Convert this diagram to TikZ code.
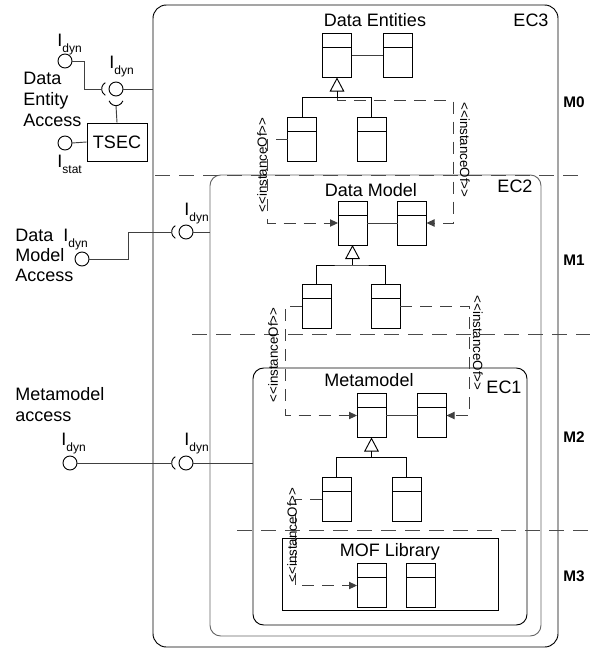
\documentclass[tikz,border=0pt]{standalone}
\usepackage{fontspec}
\setmainfont{Liberation Sans}
\usetikzlibrary{arrows.meta}
\newcommand{\Isub}[1]{I\raisebox{-4.5pt}{\fontsize{9}{9}\selectfont #1}}
\begin{document}
\begin{tikzpicture}[x=0.75pt,y=-0.75pt, line width=0.7pt,
  tbase/.style={font=\fontsize{13.5}{15.75}\selectfont},
  ilab/.style={anchor=base west, inner sep=0pt, font=\fontsize{13.5}{13.5}\selectfont},
  ball/.style={circle, draw, minimum size=10.5pt, inner sep=0pt, outer sep=0pt},
  conn/.style={draw=black!75},
  ecbox/.style={draw, inner sep=0pt, outer sep=0pt},
  classbox/.style={draw, minimum width=21.75pt, minimum height=33pt, inner sep=0pt, outer sep=0pt,
    path picture={\draw ([yshift=-10.5pt]path picture bounding box.north west) -- ([yshift=-10.5pt]path picture bounding box.north east);}},
  gen/.style={draw, -{Triangle[open,length=10.5pt,width=11pt]}},
  inst/.style={draw=black!75, dash pattern=on 9pt off 6pt, -{Triangle[length=6pt,width=5.5pt]}},
  sep/.style={draw=black!70, dash pattern=on 11pt off 7pt},
  ilabel/.style={font=\fontsize{10}{10}\selectfont, inner sep=0pt},
  mlab/.style={font=\bfseries\fontsize{11.5}{11.5}\selectfont, anchor=west, inner sep=0pt}
]
\useasboundingbox (0,0) rectangle (590,650);

% containers
\node[ecbox, rounded corners=10pt, minimum width=303.75pt, minimum height=481.5pt] (ec3) at (355.5,326) {};
\node[ecbox, draw=black!60, rounded corners=8pt, minimum width=248.25pt, minimum height=345.75pt] (ec2) at (375.5,405.5) {};
\node[ecbox, rounded corners=8pt, minimum width=205.5pt, minimum height=192.75pt] (ec1) at (390,496.5) {};
\node[ecbox, minimum width=162pt, minimum height=54pt] (mof) at (390,574) {};

% level separators
\draw[sep] (155,175) -- (585,175);
\draw[sep] (192,334) -- (590,334);
\draw[sep] (237,530) -- (590,530);

% titles and labels
\node[tbase] at (375,20) {Data Entities};
\node[tbase] at (371,190) {Data Model};
\node[tbase] at (369,380) {Metamodel};
\node[tbase] at (390,552) {MOF Library};
\node[tbase] at (531,20) {EC3};
\node[tbase] at (515,186) {EC2};
\node[tbase] at (504,387) {EC1};
\node[mlab] at (563,102) {M0};
\node[mlab] at (563,260) {M1};
\node[mlab] at (563,437) {M2};
\node[mlab] at (563,576) {M3};

% Data Entities
\node[classbox] (deA) at (337,55.5) {};
\node[classbox] (deB) at (397.5,55.5) {};
\node[classbox] (deC) at (302,139) {};
\node[classbox] (deD) at (371.5,139) {};
\draw[conn] (deA.east) -- (deB.west);
\coordinate (deG) at ([yshift=-15pt]deA.south);
\draw (deC.north) |- (deG) -| (deD.north);
\draw[gen] (deG) -- (deA.south);

% Data Model
\node[classbox] (dmA) at (352.5,223) {};
\node[classbox] (dmB) at (412,223) {};
\node[classbox] (dmC) at (316.5,306) {};
\node[classbox] (dmD) at (385.5,306) {};
\draw[conn] (dmA.east) -- (dmB.west);
\coordinate (dmG) at ([yshift=-15pt]dmA.south);
\draw (dmC.north) |- (dmG) -| (dmD.north);
\draw[gen] (dmG) -- (dmA.south);

% Metamodel
\node[classbox] (mmA) at (371.5,415.5) {};
\node[classbox] (mmB) at (432,415.5) {};
\node[classbox] (mmC) at (336.5,499.5) {};
\node[classbox] (mmD) at (406.5,499.5) {};
\draw[conn] (mmA.east) -- (mmB.west);
\coordinate (mmG) at ([yshift=-15pt]mmA.south);
\draw (mmC.north) |- (mmG) -| (mmD.north);
\draw[gen] (mmG) -- (mmA.south);

% MOF Library
\node[classbox] (mofA) at (371.5,585.5) {};
\node[classbox] (mofB) at (420.5,585.5) {};

% instanceOf connectors
\draw[inst] (deC.west) -- ++(-20,0) |- (dmA.west);
\node[ilabel, rotate=90] at (262,165) {<{}<instanceOf>{}>};
\draw[inst] (deG) -- ++(0,3) -- ++(116,0) |- (dmB.east);
\node[ilabel, rotate=-90] at (465,150) {<{}<instanceOf>{}>};
\draw[inst] (dmC.west) -- ++(-17,0) |- (mmA.west);
\node[ilabel, rotate=90] at (273,355) {<{}<instanceOf>{}>};
\draw[inst] (dmD.east) -- ++(69,0) |- (mmB.east);
\node[ilabel, rotate=-90] at (478,343) {<{}<instanceOf>{}>};
\draw[inst] (mmC.west) -- ++(-27,0) |- (mofA.west);
\node[ilabel, rotate=90] at (292,535) {<{}<instanceOf>{}>};

% interfaces: Data Entity Access
\node[tbase, align=left, anchor=north west, inner sep=0pt] (dea) at (23,72) {Data\\Entity\\Access};
\node[ball] (L1) at (65,61) {};
\node[ilab] at (57,46) {\Isub{dyn}};
\node[ball] (B1) at (116,89) {};
\node[ilab] at (109,68) {\Isub{dyn}};
\coordinate (S1) at ([xshift=-5.25pt]B1.center);
\coordinate (S1w) at ([xshift=-5.5pt]S1);
\draw ([shift={(120:5.5pt)}]S1) arc[start angle=120, end angle=240, radius=5.5pt];
\draw[conn] (L1.east) -- ++(12,0) |- (S1w);
\coordinate (T1) at ([yshift=-7pt]B1.center);
\coordinate (T1s) at ([yshift=-5.5pt]T1);
\draw ([shift={(200:5.5pt)}]T1) arc[start angle=200, end angle=340, radius=5.5pt];
\node[draw, tbase, minimum width=45pt, minimum height=28.5pt, inner sep=0pt] (tsec) at (117,142) {TSEC};
\draw[conn] (T1s) -- (tsec.north);
\draw[conn] (B1.east) -- (B1.east -| ec3.west);
\node[ball] (L0) at (65,143) {};
\node[ilab] at (57,167) {\Isub{stat}};
\draw[conn] (L0.east) -- (tsec.west);

% interfaces: Data Model Access
\node[tbase, align=left, anchor=north west, inner sep=0pt, font=\fontsize{13.5}{15}\selectfont] (dma) at (15,229) {Data\\Model\\Access};
\node[ball] (L2) at (82,259) {};
\node[ilab] at (63,241) {\Isub{dyn}};
\node[ball] (B2) at (186,232) {};
\node[ilab] at (184,215) {\Isub{dyn}};
\coordinate (S2) at ([xshift=-5.25pt]B2.center);
\coordinate (S2w) at ([xshift=-5.5pt]S2);
\draw ([shift={(120:5.5pt)}]S2) arc[start angle=120, end angle=240, radius=5.5pt];
\draw[conn] (L2.east) -- ++(39,0) |- (S2w);
\draw[conn] (B2.east) -- (B2.east -| ec2.west);

% interfaces: Metamodel access
\node[tbase, align=left, anchor=north west, inner sep=0pt] (mma) at (15,387) {Metamodel\\access};
\node[ball] (L3) at (70,463) {};
\node[ilab] at (61,445) {\Isub{dyn}};
\node[ball] (B3) at (186,463) {};
\node[ilab] at (184,445) {\Isub{dyn}};
\coordinate (S3) at ([xshift=-5.25pt]B3.center);
\coordinate (S3w) at ([xshift=-5.5pt]S3);
\draw ([shift={(120:5.5pt)}]S3) arc[start angle=120, end angle=240, radius=5.5pt];
\draw[conn] (L3.east) -- (S3w);
\draw[conn] (B3.east) -- (B3.east -| ec1.west);
\end{tikzpicture}
\end{document}
